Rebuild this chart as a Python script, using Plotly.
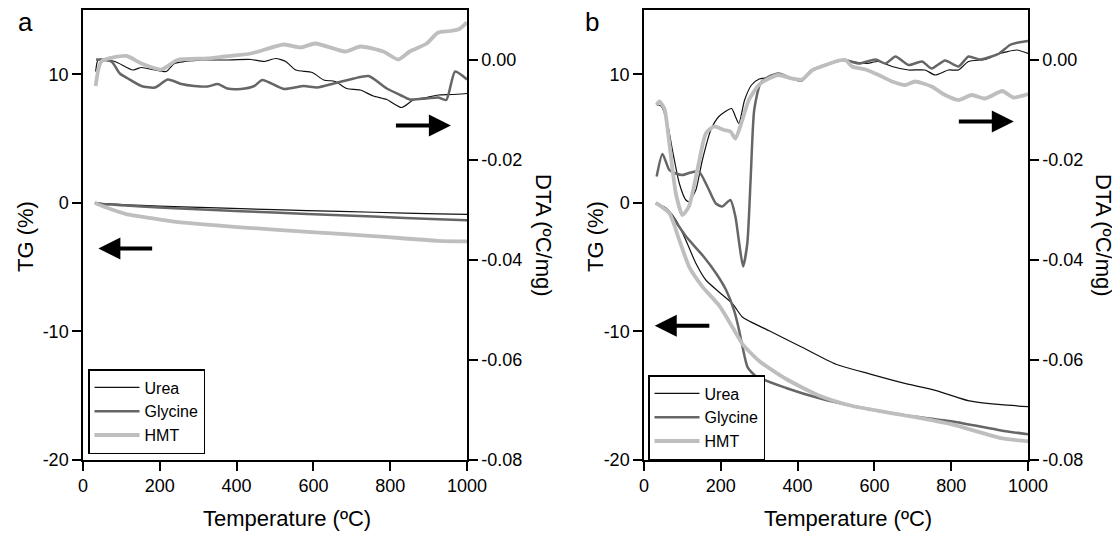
import plotly.graph_objects as go

# ---------------- data ----------------
# Panel a : TG (%) vs temperature
tg_a_T = [31, 50, 83, 110, 152, 238, 411, 584, 756, 925, 1000]
tg_a_urea = [0, -0.05, -0.1, -0.15, -0.2, -0.29, -0.45, -0.6, -0.73, -0.86, -0.9]
tg_a_gly = [0, -0.08, -0.15, -0.21, -0.28, -0.42, -0.65, -0.86, -1.07, -1.28, -1.35]
tg_a_hmt = [0, -0.25, -0.6, -0.85, -1.07, -1.46, -1.9, -2.25, -2.58, -2.95, -3.0]

# Panel a : DTA (ºC/mg)
dta_a_urea_T = [33, 40, 83, 130, 152, 187, 217, 238, 264, 324, 368, 437, 472, 502, 528,
                554, 597, 627, 657, 687, 722, 756, 791, 830, 860, 895, 925, 960, 1000]
dta_a_urea = [-0.0023, 0.0001, -0.0003, -0.002, -0.0015, -0.002, -0.0023, -0.0007, -0.0003,
              0.0, 0.0, 0.0001, -0.0003, 0.0003, -0.0003, -0.002, -0.0025, -0.004, -0.0043,
              -0.0057, -0.006, -0.0072, -0.0079, -0.0095, -0.008, -0.0075, -0.007, -0.0069, -0.0067]
dta_a_gly_T = [34, 74, 96, 117, 152, 187, 221, 256, 290, 325, 351, 376, 411, 446, 467, 523,
               575, 610, 653, 705, 744, 791, 826, 851, 895, 925, 946, 969, 1000]
dta_a_gly = [0.0001, -0.0003, -0.0027, -0.0037, -0.0052, -0.0055, -0.0039, -0.0048, -0.0052,
             -0.0053, -0.0048, -0.0057, -0.0058, -0.0052, -0.004, -0.0058, -0.0052, -0.0055,
             -0.0047, -0.0037, -0.0032, -0.0057, -0.007, -0.0079, -0.0077, -0.0075, -0.008,
             -0.0023, -0.0039]
dta_a_hmt_T = [33, 48, 113, 152, 204, 246, 324, 368, 437, 523, 567, 605, 683, 722, 782, 821,
               851, 895, 925, 955, 980, 1000]
dta_a_hmt = [-0.0052, -0.0003, 0.0008, -0.0007, -0.0019, 0.0, 0.0003, 0.0007, 0.0013, 0.0031,
             0.0025, 0.0033, 0.0017, 0.0027, 0.0017, 0.0001, 0.0017, 0.0033, 0.0055, 0.0058,
             0.0062, 0.0075]

# Panel b : TG (%)
tg_b_urea_T = [31, 57, 83, 109, 135, 161, 196, 231, 257, 326, 413, 500, 587, 674, 761, 847, 930, 1000]
tg_b_urea = [0, -0.4, -1.33, -2.9, -4.7, -6.0, -6.95, -7.85, -8.9, -9.95, -11.25, -12.55,
             -13.3, -14.0, -14.6, -15.4, -15.7, -15.85]
tg_b_gly_T = [31, 66, 109, 153, 188, 214, 235, 248, 257, 270, 292, 370, 457, 543, 674, 804, 930, 1000]
tg_b_gly = [0, -0.8, -2.6, -4.1, -5.5, -6.8, -8.4, -9.95, -11.25, -12.8, -13.5, -14.4, -15.2,
            -15.8, -16.5, -17.0, -17.7, -18.0]
tg_b_hmt_T = [31, 66, 92, 118, 153, 196, 231, 257, 300, 370, 457, 543, 674, 804, 930, 1000]
tg_b_hmt = [0, -0.8, -2.9, -5.0, -6.55, -8.0, -9.7, -11.0, -12.3, -13.7, -15.0, -15.8, -16.5,
            -17.25, -18.3, -18.55]

# Panel b : DTA (ºC/mg)
dta_b_urea_T = [33, 45, 61, 74, 92, 109, 117, 135, 152, 174, 195, 228, 238, 247, 262, 280, 300,
                325, 351, 385, 411, 439, 473, 508, 542, 577, 611, 646, 689, 732, 758, 793, 819,
                845, 888, 922, 971, 1000]
dta_b_urea = [-0.009, -0.0092, -0.0127, -0.018, -0.0247, -0.028, -0.0283, -0.026, -0.02, -0.014,
              -0.0113, -0.0097, -0.0113, -0.0127, -0.008, -0.005, -0.0038, -0.0035, -0.0027,
              -0.0037, -0.004, -0.002, -0.001, -0.0001, -0.0003, -0.0007, -0.0003, -0.0013,
              -0.002, -0.002, -0.003, -0.002, -0.002, -0.0003, 0.0001, 0.0012, 0.002, 0.0013]
dta_b_gly_T = [33, 48, 66, 83, 100, 122, 143, 165, 187, 204, 225, 238, 248, 258, 269, 278, 287,
               303, 325, 351, 385, 411, 439, 473, 508, 525, 560, 603, 629, 655, 689, 724, 749,
               784, 819, 845, 875, 905, 925, 953, 975, 1000]
dta_b_gly = [-0.0233, -0.0188, -0.022, -0.0227, -0.023, -0.0225, -0.0223, -0.0253, -0.0287,
             -0.0293, -0.028, -0.0313, -0.0367, -0.0413, -0.0367, -0.0233, -0.01, -0.0047,
             -0.0033, -0.0027, -0.0037, -0.0041, -0.002, -0.001, -0.0001, 0.0, -0.0007, 0.0001,
             -0.0007, 0.0007, -0.001, -0.0003, -0.0017, -0.0001, -0.0013, 0.0007, 0.0001,
             0.0007, 0.0013, 0.003, 0.0035, 0.0038]
dta_b_hmt_T = [33, 40, 53, 66, 83, 100, 117, 139, 161, 182, 208, 225, 238, 256, 273, 299, 325,
               351, 385, 411, 439, 473, 508, 525, 542, 577, 611, 646, 681, 706, 749, 784, 819,
               853, 888, 922, 934, 962, 1000]
dta_b_hmt = [-0.009, -0.0083, -0.0097, -0.0167, -0.0267, -0.031, -0.0293, -0.022, -0.0147,
             -0.0133, -0.014, -0.0143, -0.0157, -0.012, -0.008, -0.005, -0.0037, -0.003, -0.0037,
             -0.0039, -0.002, -0.001, -0.0001, 0.0, -0.0013, -0.0019, -0.003, -0.0043, -0.005,
             -0.0043, -0.0053, -0.007, -0.008, -0.007, -0.0077, -0.0065, -0.0062, -0.0075, -0.0068]

x_ticks = [0, 200, 400, 600, 800, 1000]
tg_ticks = [-20, -10, 0, 10]
tg_ticktext = ["-20", "-10", "0", "10"]
dta_ticks = [-0.08, -0.06, -0.04, -0.02, 0.0]
dta_ticktext = ["-0.08", "-0.06", "-0.04", "-0.02", "0.00"]

names = ["Urea", "Glycine", "HMT"]
colors = {"Urea": "#111111", "Glycine": "#666666", "HMT": "#bebebe"}
widths = {"Urea": 1.2, "Glycine": 2.5, "HMT": 3.8}

FONT = "Liberation Sans, Arial, sans-serif"
W, H = 1120, 540
OFF = 8  # page body margin: the figure is drawn 8 px in from the window corner

def px_x(p):
    return (p - OFF) / W

def px_y(p):
    return 1 - (p - OFF) / H

fig = go.Figure()

def add(xs, ys, name, xa, ya, legend, show):
    fig.add_trace(go.Scatter(
        x=xs, y=ys, name=name, mode="lines", xaxis=xa, yaxis=ya,
        line=dict(color=colors[name], width=widths[name], shape="spline", smoothing=0.6),
        legend=legend, showlegend=show, legendgroup=legend + name, hoverinfo="skip"))

# panel a
add(tg_a_T, tg_a_urea, "Urea", "x", "y", "legend", True)
add(tg_a_T, tg_a_gly, "Glycine", "x", "y", "legend", True)
add(tg_a_T, tg_a_hmt, "HMT", "x", "y", "legend", True)
add(dta_a_urea_T, dta_a_urea, "Urea", "x", "y2", "legend", False)
add(dta_a_gly_T, dta_a_gly, "Glycine", "x", "y2", "legend", False)
add(dta_a_hmt_T, dta_a_hmt, "HMT", "x", "y2", "legend", False)
# panel b
add(tg_b_urea_T, tg_b_urea, "Urea", "x2", "y3", "legend2", True)
add(tg_b_gly_T, tg_b_gly, "Glycine", "x2", "y3", "legend2", True)
add(tg_b_hmt_T, tg_b_hmt, "HMT", "x2", "y3", "legend2", True)
add(dta_b_urea_T, dta_b_urea, "Urea", "x2", "y4", "legend2", False)
add(dta_b_gly_T, dta_b_gly, "Glycine", "x2", "y4", "legend2", False)
add(dta_b_hmt_T, dta_b_hmt, "HMT", "x2", "y4", "legend2", False)

ydom = [px_y(460), px_y(10)]
common = dict(showgrid=False, zeroline=False, showline=True, linecolor="black", linewidth=1.5,
              ticks="outside", ticklen=9, tickwidth=1.5, tickcolor="black",
              tickfont=dict(family=FONT, size=18, color="black"), automargin=False)

xa = dict(common, range=[0, 1000], tickvals=x_ticks, mirror=True)
ya = dict(common, range=[-20, 15], tickvals=tg_ticks, ticktext=tg_ticktext, domain=ydom)
y2 = dict(common, range=[-0.08, 0.01], tickvals=dta_ticks, ticktext=dta_ticktext, side="right")

leg = dict(xanchor="left", yanchor="top", bgcolor="white", bordercolor="black", borderwidth=1.5,
           font=dict(family=FONT, size=16, color="black"), tracegroupgap=0,
           traceorder="normal", itemwidth=45)

fig.update_layout(
    width=W, height=H, margin=dict(l=0, r=0, t=0, b=0),
    paper_bgcolor="white", plot_bgcolor="white",
    font=dict(family=FONT, color="black"),
    xaxis=dict(xa, domain=[px_x(83), px_x(467)], anchor="y"),
    yaxis=dict(ya, anchor="x"),
    yaxis2=dict(y2, overlaying="y", anchor="x"),
    xaxis2=dict(xa, domain=[px_x(644), px_x(1028)], anchor="y3"),
    yaxis3=dict(ya, anchor="x2"),
    yaxis4=dict(y2, overlaying="y3", anchor="x2"),
    legend=dict(leg, x=px_x(88), y=px_y(369)),
    legend2=dict(leg, x=px_x(648), y=px_y(375)),
    showlegend=True,
)

ann = []
def text(x, y, s, size=22, angle=0):
    ann.append(dict(x=px_x(x), y=px_y(y), xref="paper", yref="paper", text=s, showarrow=False,
                    textangle=angle, font=dict(family=FONT, size=size, color="black"),
                    xanchor="center", yanchor="middle"))

text(287, 518, "Temperature (ºC)")
text(848, 518, "Temperature (ºC)")
text(25, 237, "TG (%)", angle=-90)
text(595, 237, "TG (%)", angle=-90)
text(544, 235, "DTA (ºC/mg)", angle=90)
text(1104, 235, "DTA (ºC/mg)", angle=90)
text(25, 22, "a", size=26)
text(592, 22, "b", size=26)

def arrow(xr, yr, x_head, y_head, x_tail, y_tail):
    ann.append(dict(x=x_head, y=y_head, ax=x_tail, ay=y_tail, xref=xr, yref=yr, axref=xr, ayref=yr,
                    text="", showarrow=True, arrowhead=2, arrowsize=1.1, arrowwidth=4,
                    arrowcolor="black", standoff=0, startstandoff=0))

arrow("x", "y2", 958, -0.0131, 811, -0.0131)
arrow("x", "y", 40, -3.55, 184, -3.55)
arrow("x2", "y4", 963, -0.0123, 816, -0.0123)
arrow("x2", "y3", 28, -9.55, 174, -9.55)

fig.update_layout(annotations=ann)
fig.write_html("out.html")
